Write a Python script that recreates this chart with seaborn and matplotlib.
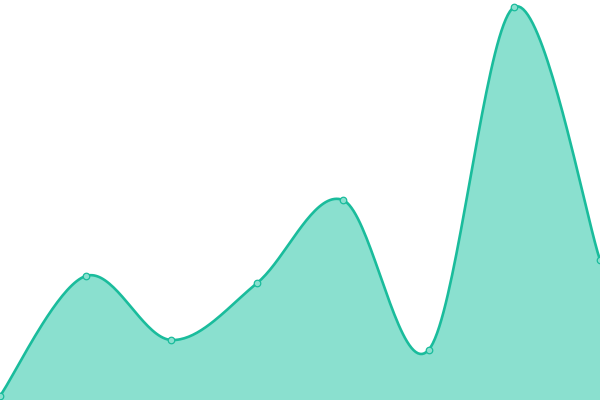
# Smooth teal area chart, no axes, markers on each data point.
import matplotlib
matplotlib.use("Agg")

import numpy as np
import pandas as pd
import matplotlib.pyplot as plt
import seaborn as sns

# data
positions = [0, 1, 2, 3, 4, 5, 6, 7]
values = [4, 124, 60, 117, 200, 50, 393, 140]

LINE = "#1abc9c"
FILL = "#8ae0cf"


def catmull_rom(xs, ys, steps=40):
    # draws a smooth path through the points (rendering only)
    pts = np.column_stack([xs, ys]).astype(float)
    pts = np.vstack([pts[0], pts, pts[-1]])
    out = []
    t = np.linspace(0, 1, steps, endpoint=False)[:, None]
    for i in range(1, len(pts) - 2):
        p0, p1, p2, p3 = pts[i - 1], pts[i], pts[i + 1], pts[i + 2]
        seg = 0.5 * ((2 * p1) + (-p0 + p2) * t
                     + (2 * p0 - 5 * p1 + 4 * p2 - p3) * t ** 2
                     + (-p0 + 3 * p1 - 3 * p2 + p3) * t ** 3)
        out.append(seg)
    out.append(pts[-2][None, :])
    out = np.vstack(out)
    return out[:, 0], out[:, 1]


df = pd.DataFrame({"x": positions, "y": values})
sx, sy = catmull_rom(df["x"], df["y"])
smooth = pd.DataFrame({"x": sx, "y": sy})

sns.set_style("white")
fig = plt.figure(figsize=(6, 4), dpi=100)
ax = fig.add_axes([0, 0, 1, 1])

ax.fill_between(smooth["x"], smooth["y"], 0, color=FILL, linewidth=0)
sns.lineplot(data=smooth, x="x", y="y", sort=False, color=LINE,
             linewidth=1.9, ax=ax)
sns.scatterplot(data=df, x="x", y="y", s=22, color=FILL, edgecolor=LINE,
                linewidth=0.9, zorder=5, ax=ax)

ax.set_xlim(0, 7)
ax.set_ylim(0, 400)
ax.set_axis_off()

fig.savefig("out.png", dpi=100)
